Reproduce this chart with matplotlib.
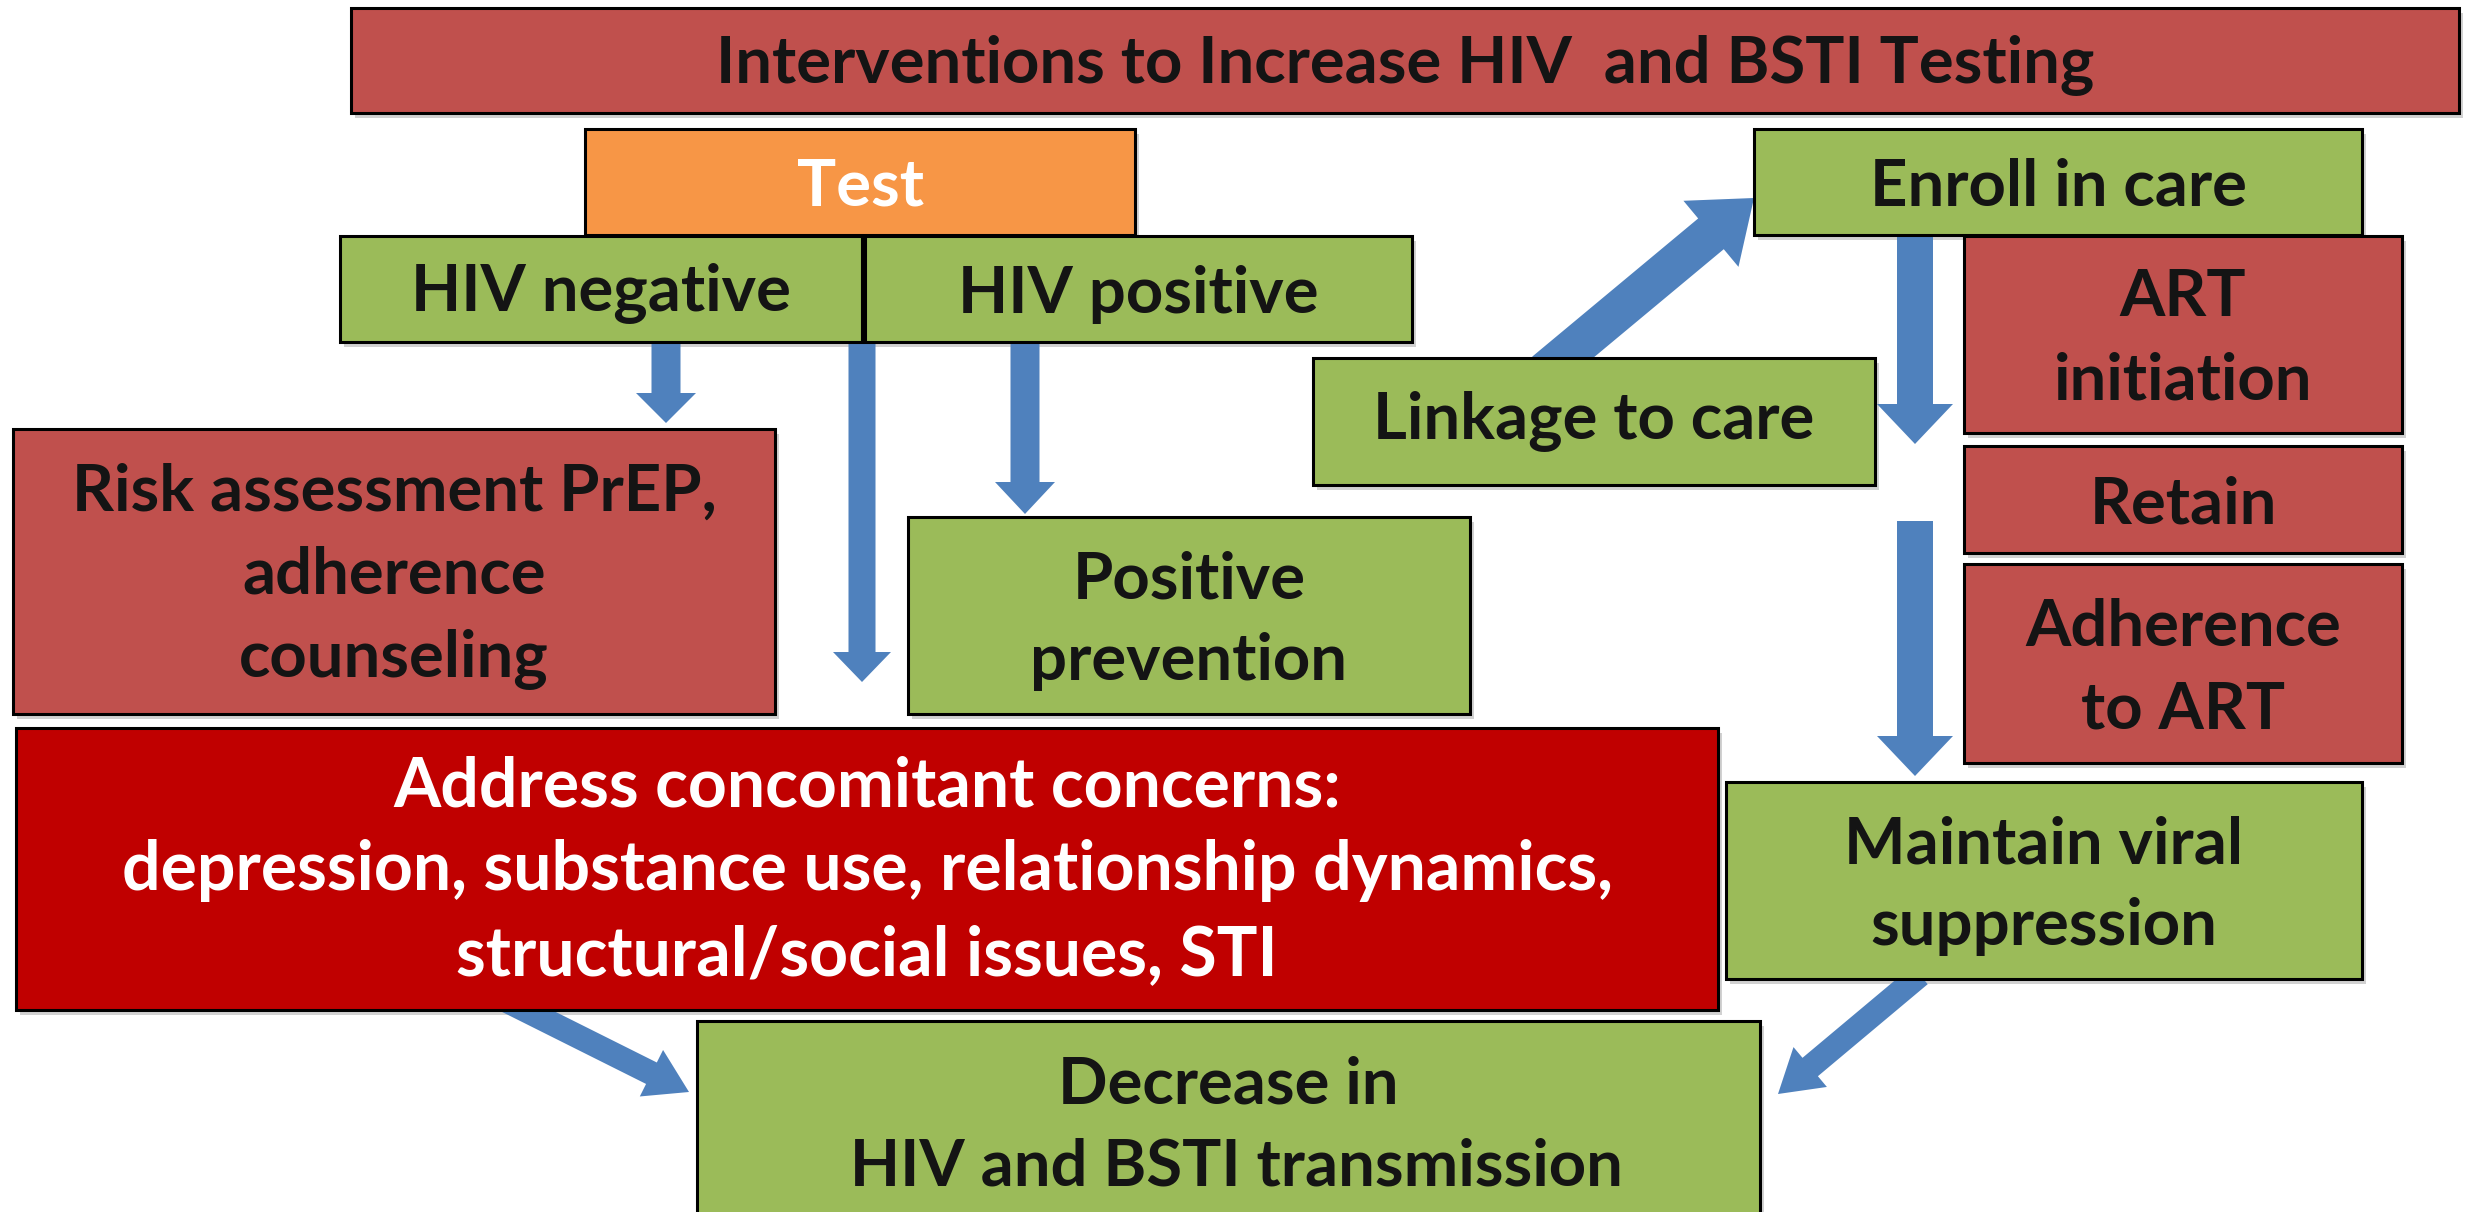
import matplotlib
matplotlib.use("Agg")
import matplotlib.pyplot as plt
import matplotlib.patches as mpatches

# ---- content ----
title_text = "Interventions to Increase HIV  and BSTI Testing"
test_text = "Test"
neg_text = "HIV negative"
pos_text = "HIV positive"
risk_text = "Risk assessment PrEP,\nadherence\ncounseling"
posprev_text = "Positive\nprevention"
address_text = ("Address concomitant concerns:\n"
                "depression, substance use, relationship dynamics,\n"
                "structural/social issues, STI")
decrease_text = "Decrease in\n HIV and BSTI transmission"
enroll_text = "Enroll in care"
linkage_text = "Linkage to care"
art_text = "ART\ninitiation"
retain_text = "Retain"
adher_text = "Adherence\nto ART"
maintain_text = "Maintain viral\nsuppression"

RED = "#C0504D"
ORANGE = "#F79646"
GREEN = "#9BBB59"
DARKRED = "#C00000"
BLUE = "#4F81BD"
INK = "#141414"

W, H = 2471, 1212
fig = plt.figure(figsize=(W / 100, H / 100), dpi=100)
ax = fig.add_axes([0, 0, 1, 1])
ax.set_xlim(0, W)
ax.set_ylim(H, 0)
ax.axis("off")

FONT = ["Lato", "DejaVu Sans"]
FS = 47
DY = 5

def box(x0, y0, x1, y1, color, label, tcolor=INK, fs=FS, ls=1.5, tx=None, ty=None, dy=DY):
    sh = mpatches.Rectangle((x0 + 4, y0 + 5), x1 - x0, y1 - y0, facecolor="#000000",
                            alpha=0.18, lw=0, zorder=1)
    ax.add_patch(sh)
    r = mpatches.Rectangle((x0, y0), x1 - x0, y1 - y0, facecolor=color,
                           edgecolor="#000000", lw=2.2, zorder=2)
    ax.add_patch(r)
    cx = (x0 + x1) / 2 if tx is None else tx
    cy = ((y0 + y1) / 2 if ty is None else ty) + dy
    ax.text(cx, cy, label, ha="center", va="center", color=tcolor,
            fontsize=fs, fontweight="bold", family=FONT, linespacing=ls,
            zorder=3, multialignment="center")

def arrow(x0, y0, x1, y1, w, hw, hl):
    a = mpatches.FancyArrow(x0, y0, x1 - x0, y1 - y0, width=w, head_width=hw,
                            head_length=hl, length_includes_head=True,
                            color=BLUE, lw=0, zorder=1.5)
    ax.add_patch(a)

# arrows (drawn under boxes)
arrow(666, 343, 666, 423, 29, 60, 30)
arrow(862, 343, 862, 682, 27, 58, 30)
arrow(1025, 343, 1025, 514, 29, 60, 32)
arrow(1545, 372, 1754, 198, 40, 86, 56)
arrow(1915, 236, 1915, 444, 36, 76, 40)
arrow(1915, 521, 1915, 776, 36, 76, 40)
arrow(505, 1000, 689, 1092, 24, 52, 42)
arrow(1920, 975, 1778, 1094, 24, 52, 42)

# boxes
box(351, 8, 2459, 113, RED, title_text)
box(585, 129, 1135, 235, ORANGE, test_text, tcolor="white")
box(340, 236, 862, 342, GREEN, neg_text)
box(865, 236, 1412, 342, GREEN, pos_text)
box(13, 429, 775, 714, RED, risk_text)
box(908, 517, 1470, 714, GREEN, posprev_text, ls=1.46)
box(16, 728, 1718, 1010, DARKRED, address_text, tcolor="white", fs=49, ls=1.42, dy=2)
box(697, 1021, 1760, 1240, GREEN, decrease_text, ty=1121)
box(1754, 129, 2362, 235, GREEN, enroll_text)
box(1313, 358, 1875, 485, GREEN, linkage_text, dy=0)
box(1964, 236, 2402, 433, RED, art_text)
box(1964, 446, 2402, 553, RED, retain_text)
box(1964, 564, 2402, 763, RED, adher_text)
box(1726, 782, 2362, 979, GREEN, maintain_text, ls=1.46)

fig.savefig("out.png", dpi=100)
